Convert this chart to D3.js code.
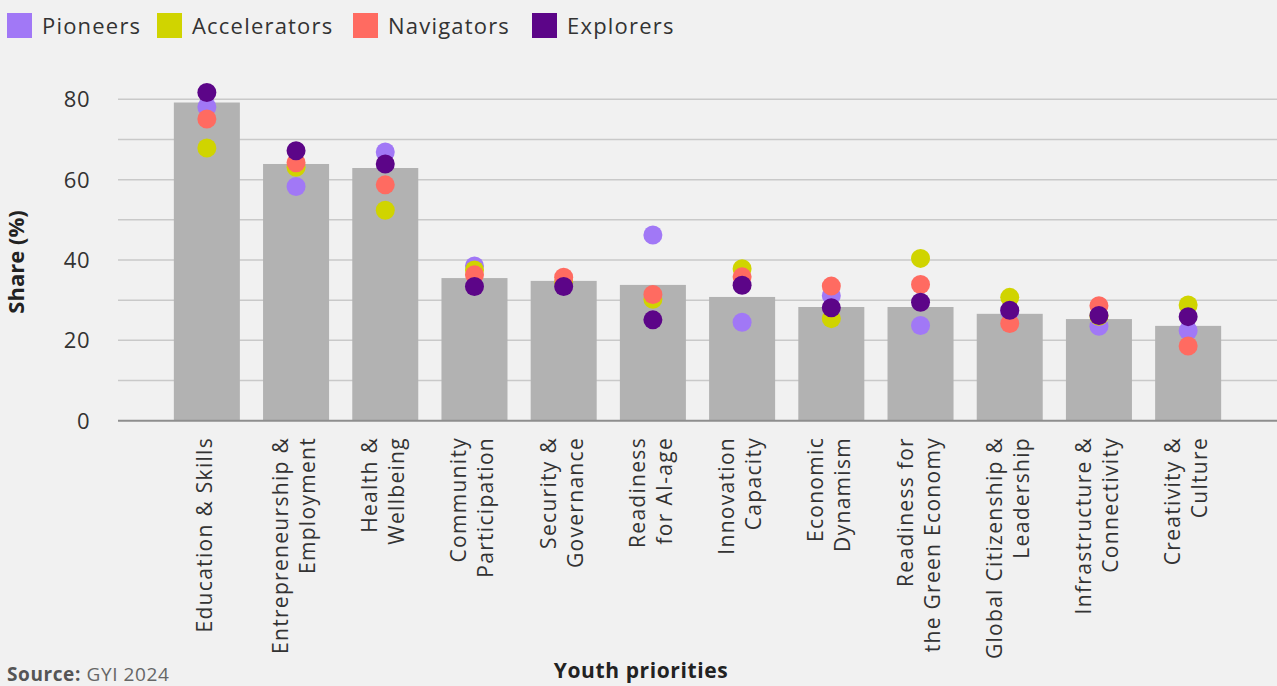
<!DOCTYPE html>
<html>
<head>
<meta charset="utf-8">
<script src="https://cdn.jsdelivr.net/npm/d3@7/dist/d3.min.js"></script>
<style>
  html, body { margin: 0; padding: 0; background: #f1f1f1; }
  svg { display: block; font-family: "Open Sans", "Noto Sans", sans-serif; }
</style>
</head>
<body>
<svg id="chart" width="1277" height="686"></svg>
<script>
// Youth priorities: overall share (bars) and by country group (dots)
const categories = [
  ["Education & Skills"],
  ["Entrepreneurship &", "Employment"],
  ["Health &", "Wellbeing"],
  ["Community", "Participation"],
  ["Security &", "Governance"],
  ["Readiness", "for AI-age"],
  ["Innovation", "Capacity"],
  ["Economic", "Dynamism"],
  ["Readiness for", "the Green Economy"],
  ["Global Citizenship &", "Leadership"],
  ["Infrastructure &", "Connectivity"],
  ["Creativity &", "Culture"]
];
const overall      = [79.2, 63.9, 62.9, 35.5, 34.8, 33.8, 30.8, 28.3, 28.3, 26.6, 25.3, 23.6];
const pioneers     = [78.1, 58.3, 66.9, 38.5, 34.2, 46.2, 24.5, 31.1, 23.7, 27.2, 23.5, 22.4];
const accelerators = [67.9, 63.1, 52.4, 37.5, 34.4, 30.2, 37.8, 25.4, 40.4, 30.7, 26.0, 28.8];
const navigators   = [75.1, 64.2, 58.7, 36.3, 35.7, 31.4, 35.8, 33.5, 33.9, 24.2, 28.6, 18.6];
const explorers    = [81.7, 67.2, 63.9, 33.4, 33.4, 25.1, 33.7, 28.1, 29.5, 27.5, 26.2, 25.9];

const seriesNames  = ["Pioneers", "Accelerators", "Navigators", "Explorers"];
const seriesValues = [pioneers, accelerators, navigators, explorers];
const seriesColors = ["#a178f6", "#d0d400", "#ff6b61", "#5c0588"];
const yTicks = [0, 20, 40, 60, 80];
const yGrid  = [10, 20, 30, 40, 50, 60, 70, 80];

const svg = d3.select("#chart");
const plotLeft = 118, plotRight = 1277, plotTop = 99.3, plotBottom = 420.7;

const keys = categories.map((c, i) => i);
const x = d3.scaleBand().domain(keys).range([plotLeft, plotRight]).paddingInner(0.26).paddingOuter(0.626);
const y = d3.scaleLinear().domain([0, 80]).range([plotBottom, plotTop]);

// grid lines
svg.append("g").selectAll("line").data(yGrid).join("line")
  .attr("x1", plotLeft).attr("x2", plotRight)
  .attr("y1", d => y(d)).attr("y2", d => y(d))
  .attr("stroke", "#c9c9c9").attr("stroke-width", 1.5);

// y tick labels
svg.append("g").selectAll("text").data(yTicks).join("text")
  .attr("x", 90).attr("y", d => y(d))
  .attr("dy", "0.36em")
  .attr("text-anchor", "end")
  .attr("font-size", 22).attr("fill", "#333")
  .attr("letter-spacing", 0.5)
  .text(d => d);

// y axis title
svg.append("text")
  .attr("transform", `translate(24,262) rotate(-90)`)
  .attr("text-anchor", "middle")
  .attr("font-size", 22).attr("font-weight", 700).attr("fill", "#222")
  .text("Share (%)");

// bars
svg.append("g").selectAll("rect").data(overall).join("rect")
  .attr("x", (d, i) => x(i))
  .attr("width", x.bandwidth())
  .attr("y", d => y(d))
  .attr("height", d => y(0) - y(d))
  .attr("fill", "#b2b2b2");

// baseline
svg.append("line")
  .attr("x1", plotLeft).attr("x2", plotRight)
  .attr("y1", y(0)).attr("y2", y(0))
  .attr("stroke", "#8e8e8e").attr("stroke-width", 2);

// dots, drawn series by series
seriesValues.forEach((vals, s) => {
  svg.append("g").selectAll("circle").data(vals).join("circle")
    .attr("cx", (d, i) => x(i) + x.bandwidth() / 2)
    .attr("cy", d => y(d))
    .attr("r", 9.5)
    .attr("fill", seriesColors[s]);
});

// category labels, rotated, lines centred on each band
const lineGap = 27;
const lab = svg.append("g");
categories.forEach((lines, i) => {
  const cx = x(i) + x.bandwidth() / 2 - 2;
  const n = lines.length;
  lines.forEach((t, j) => {
    const off = (j - (n - 1) / 2) * lineGap;
    lab.append("text")
      .attr("transform", `translate(${cx + off + 7.5},437) rotate(-90)`)
      .attr("text-anchor", "end")
      .attr("font-size", 21).attr("fill", "#333")
      .attr("letter-spacing", 1.3)
      .text(t);
  });
});

// x axis title
svg.append("text")
  .attr("x", 641).attr("y", 678)
  .attr("text-anchor", "middle")
  .attr("font-size", 21).attr("font-weight", 700).attr("fill", "#222")
  .attr("letter-spacing", 0.6)
  .text("Youth priorities");

// source note
const src = svg.append("text").attr("x", 7).attr("y", 681).attr("font-size", 19)
  .attr("fill", "#555").attr("letter-spacing", 0.6);
src.append("tspan").attr("font-weight", 700).text("Source:");
src.append("tspan").attr("fill", "#666").text(" GYI 2024");

// legend
const legX = [7, 157, 353, 532];
const leg = svg.append("g");
seriesNames.forEach((name, i) => {
  leg.append("rect").attr("x", legX[i]).attr("y", 13).attr("width", 25).attr("height", 25)
    .attr("fill", seriesColors[i]);
  leg.append("text").attr("x", legX[i] + 35).attr("y", 34)
    .attr("font-size", 22).attr("fill", "#333")
    .attr("letter-spacing", 1.2)
    .text(name);
});
</script>
</body>
</html>
